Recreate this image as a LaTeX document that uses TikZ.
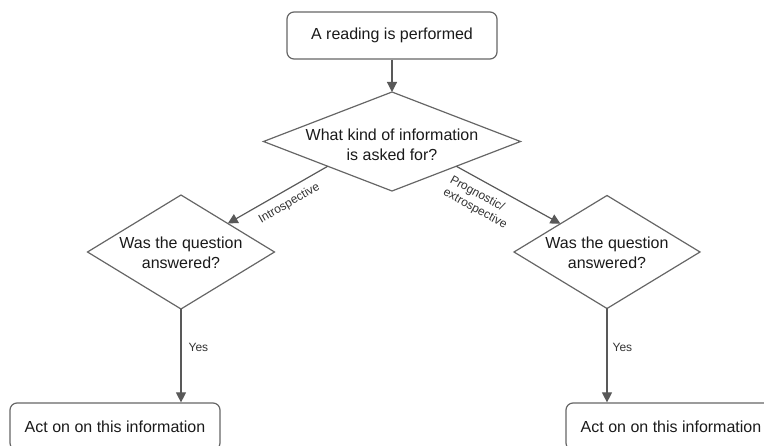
\documentclass[tikz,border=0pt]{standalone}
\usepackage{fontspec}
\setmainfont{Liberation Sans}
\usetikzlibrary{shapes.geometric,arrows.meta}
\definecolor{edgegray}{HTML}{595959}
\definecolor{boxgray}{HTML}{666666}
\definecolor{inkdark}{HTML}{1A1A1A}
\begin{document}
\begin{tikzpicture}[x=1pt,y=-1pt,
  every node/.style={text=inkdark},
  txt/.style={font=\fontsize{16}{20}\selectfont, align=center},
  procbox/.style={draw=boxgray, line width=1.2pt, rounded corners=7pt,
    minimum width=210pt, minimum height=47pt, inner sep=0pt, txt},
  decision/.style={draw=boxgray, line width=1.2pt, diamond, inner sep=0pt,
    outer sep=0pt},
  flow/.style={draw=edgegray, line width=1.2pt,
    -{Triangle[length=10pt,width=10pt]}},
  edgelabel/.style={font=\fontsize{12}{14}\selectfont, text=black!80,
    inner sep=1pt}
]
\useasboundingbox (0,0) rectangle (764,446);
\clip (0,0) rectangle (764,446);

% process boxes
\node[procbox] (start) at (392,35.5) {A reading is performed};
\node[procbox] (actL) at (115,426.5) {Act on on this information};
\node[procbox] (actR) at (671,426.5) {Act on on this information};

% decisions (text placed at the centre as a label)
\node[decision, minimum width=257pt, minimum height=99pt,
  label={[txt, yshift=-3pt]center:What kind of information\\is asked for?}]
  (kind) at (392,141.5) {};
\node[decision, minimum width=187pt, minimum height=114pt,
  label={[txt, yshift=-1pt]center:Was the question\\answered?}]
  (ansL) at (181,252) {};
\node[decision, minimum width=186pt, minimum height=113pt,
  label={[txt, yshift=-1pt]center:Was the question\\answered?}]
  (ansR) at (607,252) {};

% connectors
\draw[flow] (start) -- (kind.north);
\draw[flow] (kind.south west) -- node[edgelabel, sloped, below=6pt, pos=0.45]
  {Introspective} (ansL.north east);
\draw[flow] (kind.south east) -- node[edgelabel, sloped, below=7pt, pos=0.31,
  align=left] {Prognostic/\\extrospective} (ansR.north west);
\draw[flow] (ansL.south) -- node[edgelabel, right=6pt, pos=0.41] {Yes}
  (ansL.south |- actL.north);
\draw[flow] (ansR.south) -- node[edgelabel, right=4pt, pos=0.41] {Yes}
  (ansR.south |- actR.north);
\end{tikzpicture}
\end{document}
